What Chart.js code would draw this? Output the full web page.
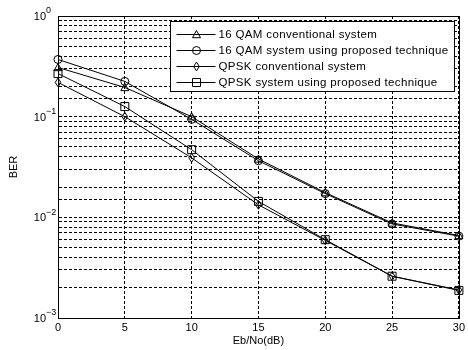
<!DOCTYPE html>
<html><head><meta charset="utf-8">
<style>html,body{margin:0;padding:0;background:#fff;overflow:hidden}canvas{display:block}</style>
<script src="https://cdn.jsdelivr.net/npm/chart.js@4/dist/chart.umd.min.js"></script>
</head><body>
<canvas id="c" width="468" height="350"></canvas>
<script>
const ebNo = [0, 5, 10, 15, 20, 25, 30];
const qam16Conventional = [0.308, 0.195, 0.100, 0.0380, 0.0176, 0.0088, 0.0066];
const qam16Proposed     = [0.370, 0.224, 0.094, 0.0365, 0.0172, 0.0086, 0.0065];
const qpskConventional  = [0.219, 0.100, 0.039, 0.0133, 0.0059, 0.0026, 0.00190];
const qpskProposed      = [0.268, 0.126, 0.047, 0.0144, 0.0060, 0.0026, 0.00188];
const seriesNames = [
  '16 QAM conventional system',
  '16 QAM system using proposed technique',
  'QPSK conventional system',
  'QPSK system using proposed technique'
];
const seriesMarkers = ['triangle', 'circle', 'diamond', 'rect'];
const yTickExponents = [0, -1, -2, -3];
const xTitle = 'Eb/No(dB)';
const yTitle = 'BER';

const FONT = "'Liberation Sans', Arial, sans-serif";

function drawMarker(ctx, style, x, y, r) {
  ctx.beginPath();
  if (style === 'circle') {
    ctx.arc(x, y, r, 0, Math.PI * 2);
  } else if (style === 'triangle') {
    ctx.moveTo(x, y - r);
    ctx.lineTo(x + r, y + r * 0.8);
    ctx.lineTo(x - r, y + r * 0.8);
    ctx.closePath();
  } else if (style === 'diamond') {
    ctx.moveTo(x, y - r * 1.1);
    ctx.lineTo(x + r * 0.7, y);
    ctx.lineTo(x, y + r * 1.1);
    ctx.lineTo(x - r * 0.7, y);
    ctx.closePath();
  } else {
    ctx.rect(x - r, y - r, r * 2, r * 2);
  }
  ctx.stroke();
}

const series = [qam16Conventional, qam16Proposed, qpskConventional, qpskProposed];
const datasets = series.map((vals, i) => ({
  label: seriesNames[i],
  data: ebNo.map((x, j) => ({x: x, y: vals[j]})),
  borderColor: '#000',
  borderWidth: 1,
  backgroundColor: 'rgba(0,0,0,0)',
  pointStyle: false,
  pointRadius: 0,
  tension: 0,
  marker: seriesMarkers[i]
}));

const markerPlugin = {
  id: 'markers',
  afterDatasetsDraw(chart) {
    const ctx = chart.ctx;
    ctx.save();
    ctx.strokeStyle = '#000';
    ctx.lineWidth = 1;
    chart.data.datasets.forEach((ds, i) => {
      const meta = chart.getDatasetMeta(i);
      meta.data.forEach(pt => drawMarker(ctx, ds.marker, pt.x, pt.y, 4));
    });
    ctx.restore();
  }
};

const framePlugin = {
  id: 'frame',
  afterDraw(chart) {
    const ctx = chart.ctx;
    const a = chart.chartArea;
    const ys = chart.scales.y;
    ctx.save();
    ctx.strokeStyle = '#000';
    ctx.lineWidth = 1;
    ctx.strokeRect(Math.round(a.left) + 0.5, Math.round(a.top) + 0.5,
      Math.round(a.right) - Math.round(a.left), Math.round(a.bottom) - Math.round(a.top));
    ctx.fillStyle = '#000';
    yTickExponents.forEach(e => {
      const py = ys.getPixelForValue(Math.pow(10, e));
      ctx.font = '11px ' + FONT;
      ctx.textAlign = 'right';
      ctx.textBaseline = 'middle';
      ctx.fillText('10', a.left - 12, py + 1);
      ctx.font = '9px ' + FONT;
      ctx.textAlign = 'left';
      ctx.fillText(String(e).replace('-', '\u2212'), a.left - 12, py - 5);
    });
    const bx = a.right - 5, by = a.top + 4.5;
    const bw = 284, bh = 70;
    const left = Math.round(bx - bw) + 0.5, top = Math.round(by) + 0.5;
    ctx.fillStyle = '#fff';
    ctx.fillRect(left, top, bw, bh);
    ctx.strokeRect(left, top, bw, bh);
    ctx.font = '11.5px ' + FONT;
    ctx.textAlign = 'left';
    ctx.textBaseline = 'middle';
    try { ctx.letterSpacing = '0.35px'; } catch (err) {}
    chart.data.datasets.forEach((ds, i) => {
      const ry = Math.round(top + 12 + i * 16) + 0.5;
      ctx.beginPath();
      ctx.moveTo(left + 6, ry);
      ctx.lineTo(left + 45, ry);
      ctx.stroke();
      drawMarker(ctx, ds.marker, left + 26, ry, 4);
      ctx.fillStyle = '#000';
      ctx.fillText(ds.label, left + 48, ry + 0.5);
    });
    ctx.restore();
  }
};

new Chart(document.getElementById('c'), {
  type: 'line',
  data: {datasets: datasets},
  options: {
    responsive: false,
    animation: false,
    devicePixelRatio: 1,
    layout: {padding: {top: 16, right: 7, left: 0, bottom: 0}},
    plugins: {legend: {display: false}, tooltip: {enabled: false}},
    scales: {
      x: {
        type: 'linear', min: 0, max: 30,
        afterFit(s) { s.height = 32; },
        ticks: {stepSize: 5, autoSkip: false, maxRotation: 0, padding: 3, color: '#000', font: {family: FONT, size: 11}},
        grid: {color: '#000', lineWidth: 1, drawTicks: false},
        border: {display: true, color: '#000', width: 1, dash: [3, 2]},
        title: {display: true, text: xTitle, color: '#000', font: {family: FONT, size: 11}, padding: {top: 0, bottom: 2}}
      },
      y: {
        type: 'logarithmic', min: 0.001, max: 1,
        afterFit(s) { s.width = 58; },
        ticks: {display: false, autoSkip: false},
        grid: {color: '#000', lineWidth: 1, drawTicks: false},
        border: {display: true, color: '#000', width: 1, dash: [3, 2]},
        title: {display: true, text: yTitle, color: '#000', font: {family: FONT, size: 11}, padding: {top: 7, bottom: 0}}
      }
    }
  },
  plugins: [markerPlugin, framePlugin]
});
</script>
</body></html>
